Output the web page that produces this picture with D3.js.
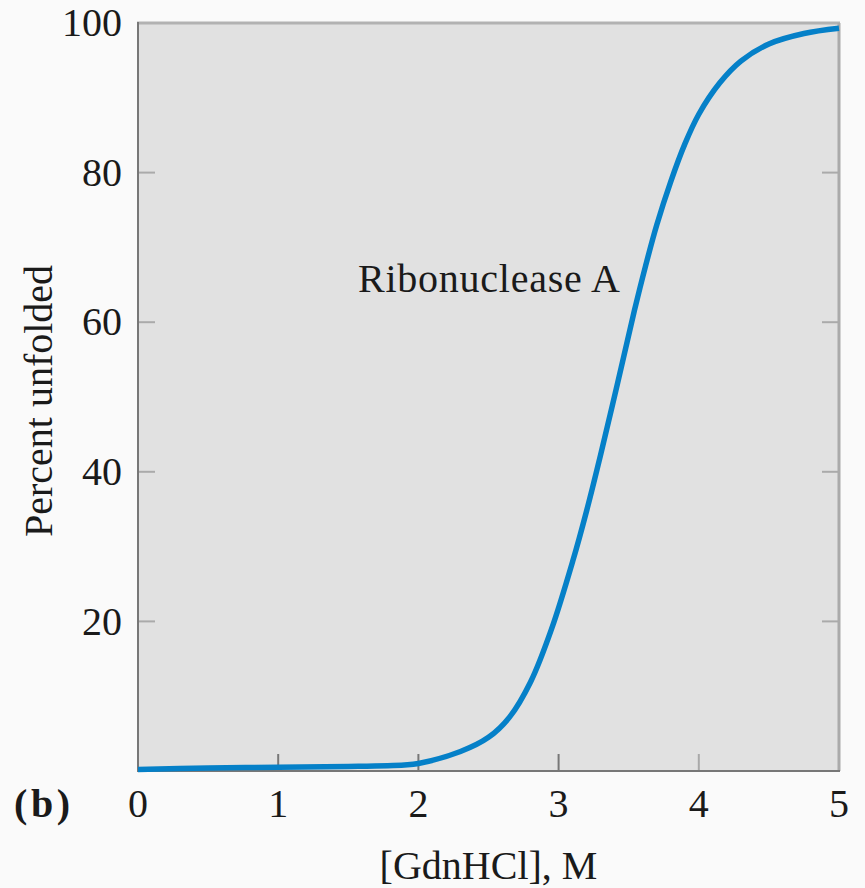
<!DOCTYPE html>
<html>
<head>
<meta charset="utf-8">
<script src="https://cdn.jsdelivr.net/npm/d3@7"></script>
<style>
  html, body { margin: 0; padding: 0; background: #fafafa; }
  svg { display: block; }
  text { font-family: "Liberation Serif", "DejaVu Serif", serif; fill: #1a1a1a; }
</style>
</head>
<body>
<svg id="chart" width="865" height="888"></svg>
<script>
// Data
const concentration = [0, 0.5, 1, 1.5, 1.9, 2.0, 2.3, 2.5, 2.65, 2.8, 2.95, 3.1, 3.2, 3.3, 3.42, 3.54, 3.62, 3.7, 3.8, 3.9, 4.0, 4.15, 4.3, 4.5, 4.75, 5.0];
const percentUnfolded = [0.2, 0.4, 0.5, 0.6, 0.8, 1.0, 2.6, 4.5, 7.2, 11.9, 19, 28, 34.8, 42.3, 51.8, 61.5, 67.5, 73, 78.8, 83.8, 87.8, 92, 94.9, 97.2, 98.6, 99.3];
const xTicks = [0, 1, 2, 3, 4, 5];
const yTicks = [20, 40, 60, 80, 100];
const seriesLabel = "Ribonuclease A";
const xTitle = "[GdnHCl], M";
const yTitle = "Percent unfolded";
const panelLabel = "(b)";

const svg = d3.select("#chart");
const L = 138, R = 839, T = 23, B = 771;
const x = d3.scaleLinear().domain([0, 5]).range([L, R]);
const y = d3.scaleLinear().domain([0, 100]).range([B, T]);

// plot background
svg.append("rect").attr("x", L).attr("y", T).attr("width", R - L).attr("height", B - T).attr("fill", "#e1e1e1");

// inner ticks
const tickLen = 17;
svg.append("g").selectAll("line").data(xTicks.filter(d => d > 0 && d < 5)).join("line")
  .attr("x1", d => x(d)).attr("x2", d => x(d)).attr("y1", B).attr("y2", B - tickLen)
  .attr("stroke", d => d === 4 ? "#a9a9a9" : "#777").attr("stroke-width", 2);
svg.append("g").selectAll("line").data(yTicks.filter(d => d < 100)).join("line")
  .attr("x1", L).attr("x2", L + tickLen).attr("y1", d => y(d)).attr("y2", d => y(d))
  .attr("stroke", "#aaa").attr("stroke-width", 2);
svg.append("g").selectAll("line").data(yTicks.filter(d => d < 100)).join("line")
  .attr("x1", R).attr("x2", R - tickLen).attr("y1", d => y(d)).attr("y2", d => y(d))
  .attr("stroke", "#aaa").attr("stroke-width", 2);

// frame
svg.append("line").attr("x1", L - 1).attr("x2", R + 1).attr("y1", T).attr("y2", T).attr("stroke", "#b2b2b2").attr("stroke-width", 3);
svg.append("line").attr("x1", R).attr("x2", R).attr("y1", T).attr("y2", B).attr("stroke", "#aaa").attr("stroke-width", 3);
svg.append("line").attr("x1", L).attr("x2", L).attr("y1", T - 1).attr("y2", B + 1).attr("stroke", "#777").attr("stroke-width", 2);
svg.append("line").attr("x1", L).attr("x2", R + 1).attr("y1", B).attr("y2", B).attr("stroke", "#777").attr("stroke-width", 2);

// curve
const pts = concentration.map((c, i) => [c, percentUnfolded[i]]);
const line = d3.line().x(d => x(d[0])).y(d => y(d[1])).curve(d3.curveCatmullRom.alpha(0.5));
svg.append("path").datum(pts).attr("d", line).attr("fill", "none")
  .attr("stroke", "#0580c8").attr("stroke-width", 5.5).attr("stroke-linecap", "butt");

// tick labels
svg.append("g").selectAll("text").data(yTicks).join("text")
  .attr("x", L - 16).attr("y", d => y(d)).attr("dy", "0.33em")
  .attr("text-anchor", "end").attr("font-size", 40).text(d => d);
svg.append("g").selectAll("text").data(xTicks).join("text")
  .attr("x", d => x(d)).attr("y", 817)
  .attr("text-anchor", "middle").attr("font-size", 40).text(d => d);

// panel label
svg.append("text").attr("x", 14).attr("y", 817).attr("font-size", 40).attr("font-weight", "bold").attr("textLength", 56).text(panelLabel);

// series label
svg.append("text").attr("x", 358).attr("y", 292).attr("font-size", 40).attr("textLength", 262).text(seriesLabel);

// axis titles
svg.append("text").attr("x", (L + R) / 2).attr("y", 879).attr("text-anchor", "middle").attr("font-size", 40).text(xTitle);
svg.append("text").attr("transform", `translate(52,${(T + B) / 2 + 4}) rotate(-90)`)
  .attr("text-anchor", "middle").attr("font-size", 40).text(yTitle);
</script>
</body>
</html>
